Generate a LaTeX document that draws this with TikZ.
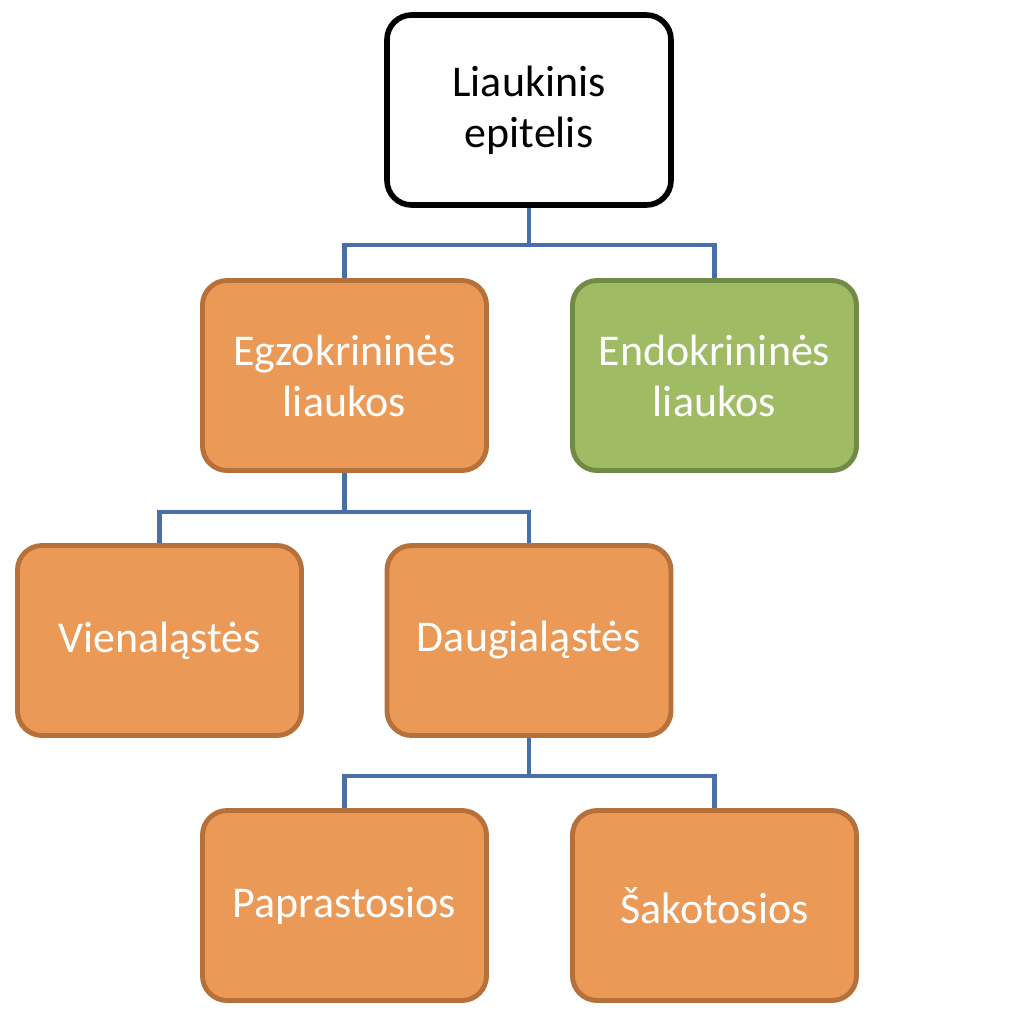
\documentclass[tikz,border=0pt]{standalone}
\usepackage{fontspec}
\setmainfont{Carlito}
\usetikzlibrary{positioning}
\definecolor{orangefill}{RGB}{234,153,87}
\definecolor{orangeline}{RGB}{182,112,58}
\definecolor{greenfill}{RGB}{159,187,99}
\definecolor{greenline}{RGB}{113,139,68}
\definecolor{wire}{RGB}{74,110,168}
\begin{document}
\begin{tikzpicture}[
	box/.style={draw,rounded corners=7pt,line width=1.4pt,minimum width=2.84cm,minimum height=1.9cm,align=center,font=\fontsize{12.5}{14.5}\selectfont,text=white},
	orange/.style={box,fill=orangefill,draw=orangeline},
	green/.style={box,fill=greenfill,draw=greenline},
	link/.style={draw=wire,line width=1.2pt}]
	\useasboundingbox (0,0) rectangle (10.26,-10.30);
	\node[box,draw=black,text=black,line width=1.6pt](top) at (5.29,-1.10){Liaukinis\\epitelis};
	\node[orange](egzo) at (3.445,-3.755){Egzokrininės\\liaukos};
	\node[green](endo) at (7.145,-3.755){Endokrininės\\liaukos};
	\node[orange](vien) at (1.595,-6.405){Vienaląstės};
	\node[orange](daug) at (5.29,-6.405){Daugialąstės};
	\node[orange](papr) at (3.445,-9.055){Paprastosios};
	\node[orange](sako) at (7.145,-9.055){Šakotosios};
	\draw[link](top.south)-- ++(0,-0.37)-|(egzo.north);
	\draw[link](top.south)-- ++(0,-0.37)-|(endo.north);
	\draw[link](egzo.south)-- ++(0,-0.39)-|(vien.north);
	\draw[link](egzo.south)-- ++(0,-0.39)-|(daug.north);
	\draw[link](daug.south)-- ++(0,-0.38)-|(papr.north);
	\draw[link](daug.south)-- ++(0,-0.38)-|(sako.north);
\end{tikzpicture}
\end{document}
